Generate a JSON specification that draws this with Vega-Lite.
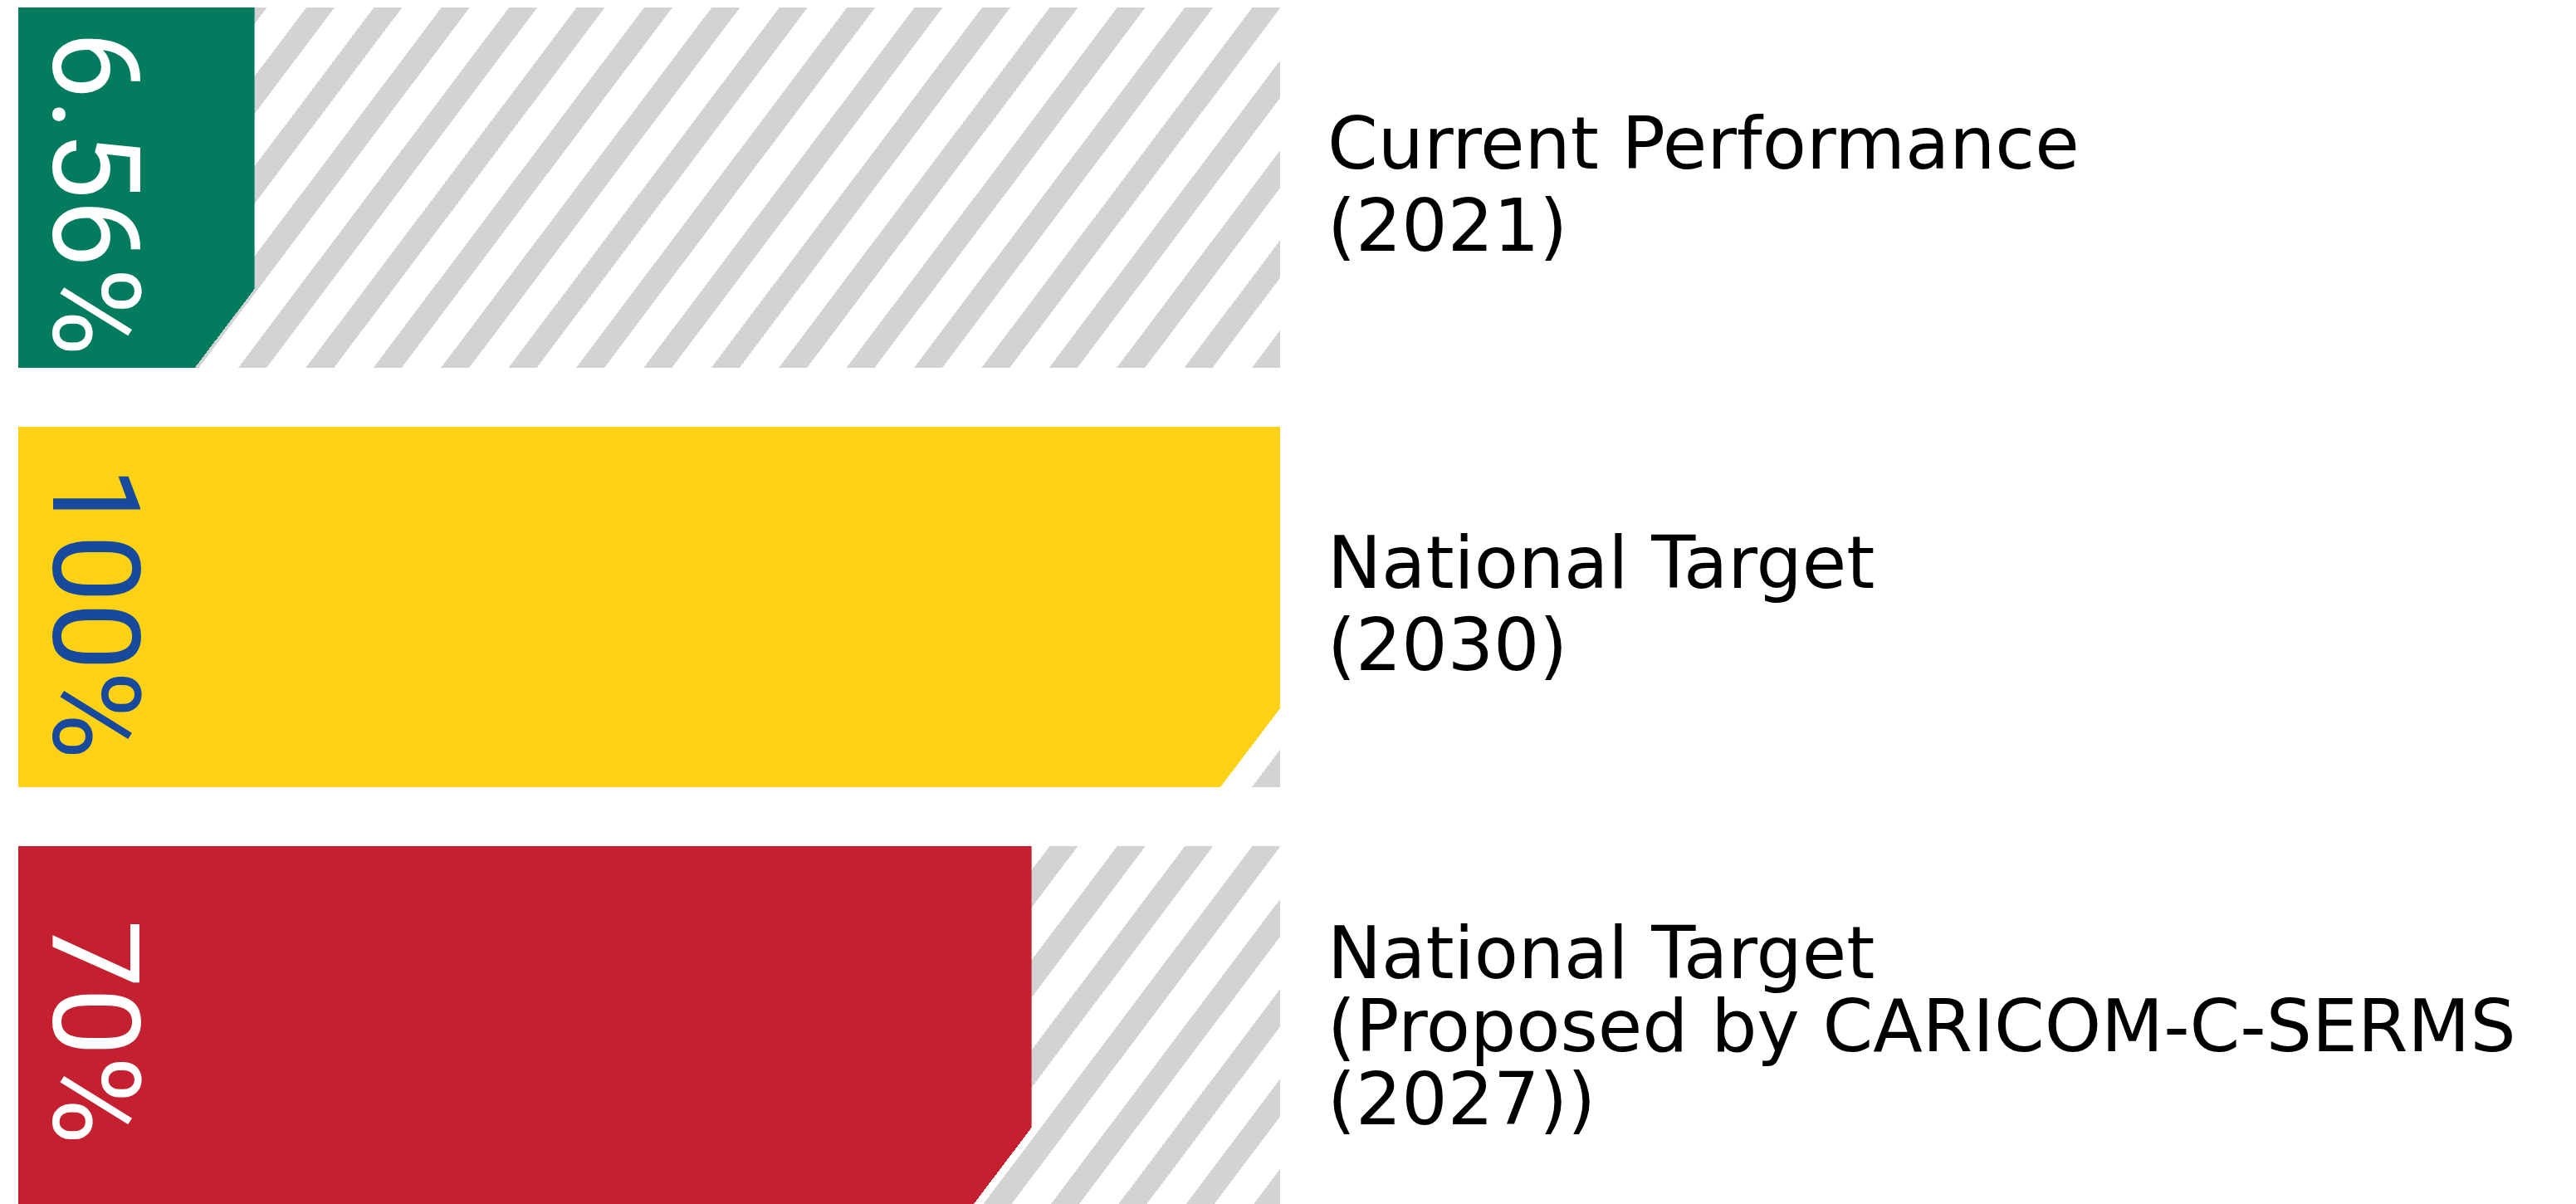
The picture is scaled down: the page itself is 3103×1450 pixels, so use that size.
{
  "$schema": "https://vega.github.io/schema/vega-lite/v6.json",
  "width": 3081,
  "height": 1444,
  "autosize": {"type": "none"},
  "padding": {"left": 22, "top": 9, "right": 0, "bottom": 0},
  "background": "#ffffff",
  "config": {"view": {"stroke": null}},
  "data": {
    "values": [
      {"cat": "current", "value": 6.56, "pct": "6.56%", "desc": "Current Performance\n(2021)"},
      {"cat": "national", "value": 100, "pct": "100%", "desc": "National Target\n(2030)"},
      {"cat": "caricom", "value": 70, "pct": "70%", "desc": "National Target\n(Proposed by CARICOM-C-SERMS\n(2027))"}
    ]
  },
  "encoding": {
    "y": {"field": "cat", "type": "nominal", "sort": null, "axis": null,
          "scale": {"paddingInner": 0.1406, "paddingOuter": 0}}
  },
  "layer": [
    {
      "mark": {
        "type": "bar",
        "fill": {
          "gradient": "linear", "x1": 0, "y1": 0, "x2": 1.16117, "y2": 0.24928,
          "stops": [
            {"offset": 0, "color": "#ffffff"},
            {"offset": 0.011586, "color": "#ffffff"}, {"offset": 0.011586, "color": "#d1d3d4"}, {"offset": 0.030002, "color": "#d1d3d4"}, {"offset": 0.030002, "color": "#ffffff"},
            {"offset": 0.055674, "color": "#ffffff"}, {"offset": 0.055674, "color": "#d1d3d4"}, {"offset": 0.07409, "color": "#d1d3d4"}, {"offset": 0.07409, "color": "#ffffff"},
            {"offset": 0.099762, "color": "#ffffff"}, {"offset": 0.099762, "color": "#d1d3d4"}, {"offset": 0.118178, "color": "#d1d3d4"}, {"offset": 0.118178, "color": "#ffffff"},
            {"offset": 0.14385, "color": "#ffffff"}, {"offset": 0.14385, "color": "#d1d3d4"}, {"offset": 0.162266, "color": "#d1d3d4"}, {"offset": 0.162266, "color": "#ffffff"},
            {"offset": 0.187938, "color": "#ffffff"}, {"offset": 0.187938, "color": "#d1d3d4"}, {"offset": 0.206354, "color": "#d1d3d4"}, {"offset": 0.206354, "color": "#ffffff"},
            {"offset": 0.232026, "color": "#ffffff"}, {"offset": 0.232026, "color": "#d1d3d4"}, {"offset": 0.250442, "color": "#d1d3d4"}, {"offset": 0.250442, "color": "#ffffff"},
            {"offset": 0.276114, "color": "#ffffff"}, {"offset": 0.276114, "color": "#d1d3d4"}, {"offset": 0.29453, "color": "#d1d3d4"}, {"offset": 0.29453, "color": "#ffffff"},
            {"offset": 0.320202, "color": "#ffffff"}, {"offset": 0.320202, "color": "#d1d3d4"}, {"offset": 0.338618, "color": "#d1d3d4"}, {"offset": 0.338618, "color": "#ffffff"},
            {"offset": 0.36429, "color": "#ffffff"}, {"offset": 0.36429, "color": "#d1d3d4"}, {"offset": 0.382706, "color": "#d1d3d4"}, {"offset": 0.382706, "color": "#ffffff"},
            {"offset": 0.408378, "color": "#ffffff"}, {"offset": 0.408378, "color": "#d1d3d4"}, {"offset": 0.426794, "color": "#d1d3d4"}, {"offset": 0.426794, "color": "#ffffff"},
            {"offset": 0.452466, "color": "#ffffff"}, {"offset": 0.452466, "color": "#d1d3d4"}, {"offset": 0.470882, "color": "#d1d3d4"}, {"offset": 0.470882, "color": "#ffffff"},
            {"offset": 0.496554, "color": "#ffffff"}, {"offset": 0.496554, "color": "#d1d3d4"}, {"offset": 0.51497, "color": "#d1d3d4"}, {"offset": 0.51497, "color": "#ffffff"},
            {"offset": 0.540642, "color": "#ffffff"}, {"offset": 0.540642, "color": "#d1d3d4"}, {"offset": 0.559058, "color": "#d1d3d4"}, {"offset": 0.559058, "color": "#ffffff"},
            {"offset": 0.58473, "color": "#ffffff"}, {"offset": 0.58473, "color": "#d1d3d4"}, {"offset": 0.603146, "color": "#d1d3d4"}, {"offset": 0.603146, "color": "#ffffff"},
            {"offset": 0.628818, "color": "#ffffff"}, {"offset": 0.628818, "color": "#d1d3d4"}, {"offset": 0.647234, "color": "#d1d3d4"}, {"offset": 0.647234, "color": "#ffffff"},
            {"offset": 0.672906, "color": "#ffffff"}, {"offset": 0.672906, "color": "#d1d3d4"}, {"offset": 0.691322, "color": "#d1d3d4"}, {"offset": 0.691322, "color": "#ffffff"},
            {"offset": 0.716994, "color": "#ffffff"}, {"offset": 0.716994, "color": "#d1d3d4"}, {"offset": 0.73541, "color": "#d1d3d4"}, {"offset": 0.73541, "color": "#ffffff"},
            {"offset": 0.761082, "color": "#ffffff"}, {"offset": 0.761082, "color": "#d1d3d4"}, {"offset": 0.779498, "color": "#d1d3d4"}, {"offset": 0.779498, "color": "#ffffff"},
            {"offset": 0.80517, "color": "#ffffff"}, {"offset": 0.80517, "color": "#d1d3d4"}, {"offset": 0.823586, "color": "#d1d3d4"}, {"offset": 0.823586, "color": "#ffffff"},
            {"offset": 0.849258, "color": "#ffffff"}, {"offset": 0.849258, "color": "#d1d3d4"}, {"offset": 0.867674, "color": "#d1d3d4"}, {"offset": 0.867674, "color": "#ffffff"},
            {"offset": 0.893346, "color": "#ffffff"}, {"offset": 0.893346, "color": "#d1d3d4"}, {"offset": 0.911762, "color": "#d1d3d4"}, {"offset": 0.911762, "color": "#ffffff"},
            {"offset": 0.937434, "color": "#ffffff"}, {"offset": 0.937434, "color": "#d1d3d4"}, {"offset": 0.95585, "color": "#d1d3d4"}, {"offset": 0.95585, "color": "#ffffff"},
            {"offset": 0.981522, "color": "#ffffff"}, {"offset": 0.981522, "color": "#d1d3d4"}, {"offset": 0.999938, "color": "#d1d3d4"}, {"offset": 0.999938, "color": "#ffffff"},
            {"offset": 1, "color": "#ffffff"}
          ]
        }
      },
      "encoding": {
        "x": {"datum": 100, "type": "quantitative", "axis": null,
              "scale": {"type": "pow", "exponent": 0.615, "domain": [0, 100], "range": [0, 1520]}}
      }
    },
    {
      "transform": [{"filter": "datum.cat == 'current'"}],
      "mark": {
        "type": "bar",
        "fill": {
          "gradient": "linear", "x1": 0, "y1": 0, "x2": 0.90511, "y2": 1.04612,
          "stops": [
            {"offset": 0, "color": "#027b5f"}, {"offset": 0.9, "color": "#027b5f"},
            {"offset": 0.9, "color": "rgba(2,123,95,0)"}, {"offset": 1, "color": "rgba(2,123,95,0)"}
          ]
        }
      },
      "encoding": {"x": {"field": "value", "type": "quantitative"}}
    },
    {
      "transform": [{"filter": "datum.cat == 'national'"}],
      "mark": {
        "type": "bar",
        "fill": {
          "gradient": "linear", "x1": 0, "y1": 0, "x2": 1.24081, "y2": 0.26851,
          "stops": [
            {"offset": 0, "color": "#fcd116"}, {"offset": 0.9, "color": "#fcd116"},
            {"offset": 0.9, "color": "rgba(252,209,22,0)"}, {"offset": 1, "color": "rgba(252,209,22,0)"}
          ]
        }
      },
      "encoding": {"x": {"field": "value", "type": "quantitative"}}
    },
    {
      "transform": [{"filter": "datum.cat == 'caricom'"}],
      "mark": {
        "type": "bar",
        "fill": {
          "gradient": "linear", "x1": 0, "y1": 0, "x2": 1.25393, "y2": 0.33791,
          "stops": [
            {"offset": 0, "color": "#c5202f"}, {"offset": 0.9, "color": "#c5202f"},
            {"offset": 0.9, "color": "rgba(197,32,47,0)"}, {"offset": 1, "color": "rgba(197,32,47,0)"}
          ]
        }
      },
      "encoding": {"x": {"field": "value", "type": "quantitative"}}
    },
    {
      "mark": {"type": "text", "angle": 90, "align": "center", "baseline": "alphabetic",
               "font": "Roboto", "fontSize": 146, "dy": -42, "dx": 7},
      "encoding": {
        "x": {"datum": 0, "type": "quantitative"},
        "text": {"field": "pct", "type": "nominal"},
        "color": {"field": "cat", "type": "nominal", "legend": null,
                  "scale": {"domain": ["current", "national", "caricom"], "range": ["#ffffff", "#174a9c", "#ffffff"]}}
      }
    },
    {
      "transform": [{"filter": "datum.cat != 'caricom'"}],
      "mark": {"type": "text", "align": "left", "baseline": "alphabetic", "font": "DejaVu Sans",
               "fontSize": 87, "lineBreak": "\n", "lineHeight": 99, "dx": 57, "dy": -23, "color": "#000000"},
      "encoding": {
        "x": {"datum": 100, "type": "quantitative"},
        "text": {"field": "desc", "type": "nominal"}
      }
    },
    {
      "transform": [{"filter": "datum.cat == 'caricom'"}],
      "mark": {"type": "text", "align": "left", "baseline": "alphabetic", "font": "DejaVu Sans",
               "fontSize": 87, "lineBreak": "\n", "lineHeight": 88, "dx": 57, "dy": -58, "color": "#000000"},
      "encoding": {
        "x": {"datum": 100, "type": "quantitative"},
        "text": {"field": "desc", "type": "nominal"}
      }
    }
  ]
}
